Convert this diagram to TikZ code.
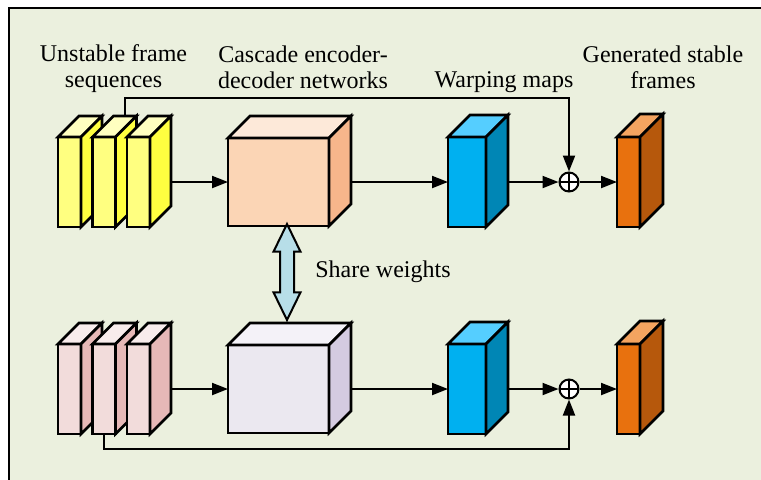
\documentclass[tikz,border=0pt]{standalone}
\usepackage{fontspec}
\setmainfont{Liberation Serif}
\usetikzlibrary{arrows.meta,shapes.arrows}

\definecolor{bggreen}{RGB}{235,240,222}
\definecolor{ylwfront}{RGB}{255,255,128}
\definecolor{ylwside}{RGB}{255,255,64}
\definecolor{ylwtop}{RGB}{255,255,192}
\definecolor{pnkfront}{RGB}{242,220,219}
\definecolor{pnkside}{RGB}{230,184,183}
\definecolor{pnktop}{RGB}{248,236,236}
\definecolor{encfront}{RGB}{251,213,181}
\definecolor{encside}{RGB}{247,182,139}
\definecolor{enctop}{RGB}{253,233,217}
\definecolor{decfront}{RGB}{235,232,240}
\definecolor{decside}{RGB}{212,203,225}
\definecolor{dectop}{RGB}{244,242,248}
\definecolor{warpfront}{RGB}{0,176,240}
\definecolor{warpside}{RGB}{0,134,181}
\definecolor{warptop}{RGB}{85,206,255}
\definecolor{outfront}{RGB}{232,113,14}
\definecolor{outside}{RGB}{182,88,12}
\definecolor{outtop}{RGB}{244,164,96}
\definecolor{shareblue}{RGB}{183,222,232}

% top and side faces behind a front node, name depth top side
\newcommand\cuboid[4]{%
  \filldraw[face,fill=#3] (#1.north west) -- ++(#2,#2) -- ([shift={(#2,#2)}]#1.north east) -- (#1.north east) -- cycle;
  \filldraw[face,fill=#4] (#1.north east) -- ([shift={(#2,#2)}]#1.north east) -- ([shift={(#2,#2)}]#1.south east) -- (#1.south east) -- cycle;
  \coordinate (#1t) at ([shift={(#2,#2)}]#1.north);
  \coordinate (#1r) at ([xshift=#2]#1.east);
}

\begin{document}
\begin{tikzpicture}[x=0.5pt,y=-0.5pt,node distance=103.5pt,
    face/.style={draw,line width=1.3pt},
    front/.style={draw,line width=1.3pt,inner sep=0pt,outer sep=0pt,minimum height=45pt},
    frame/.style={front,minimum width=11.5pt},
    netbox/.style={front,minimum width=50.5pt,minimum height=44pt},
    warpbox/.style={front,minimum width=19pt},
    addop/.style={circle,draw,line width=1pt,fill=white,minimum size=9.5pt,inner sep=0pt,
      path picture={\draw[line width=1pt] (path picture bounding box.north) -- (path picture bounding box.south)
        (path picture bounding box.west) -- (path picture bounding box.east);}},
    share/.style={draw,line width=1pt,fill=shareblue,shape=double arrow,rotate=90,minimum height=48pt,
      minimum width=13pt,double arrow head extend=3.25pt,double arrow tip angle=52,
      inner xsep=0pt,inner ysep=3pt},
    arr/.style={-{Triangle[length=8pt,width=6pt]},line width=1pt},
    lab/.style={align=center,font=\fontsize{12pt}{13pt}\selectfont,inner sep=0pt}]
  \useasboundingbox (0,0) rectangle (761,479);
  \clip (0,0) rectangle (761,479);
  \filldraw[fill=bggreen,line width=1pt] (9,8) rectangle (790,500);

  % labels
  \node[lab] (l1) at (113.5,69) {Unstable frame\\sequences};
  \node[lab] (l2) at (303,67) {Cascade encoder-\\decoder networks};
  \node[lab] (l3) at (504,82) {Warping maps};
  \node[lab] (l4) at (663,67) {Generated stable\\frames};

  % upper branch
  \node[frame,fill=ylwfront] (f1) at (69.5,182) {};
  \cuboid{f1}{10.5pt}{ylwtop}{ylwside}
  \node[frame,fill=ylwfront,node distance=17.25pt,right of=f1] (f2) {};
  \cuboid{f2}{10.5pt}{ylwtop}{ylwside}
  \node[frame,fill=ylwfront,node distance=17.25pt,right of=f2] (f3) {};
  \cuboid{f3}{10.5pt}{ylwtop}{ylwside}
  \node[netbox,fill=encfront,node distance=70pt,right of=f3] (enc1) {};
  \cuboid{enc1}{11pt}{enctop}{encside}
  \node[warpbox,fill=warpfront,node distance=94.25pt,right of=enc1] (warp1) {};
  \cuboid{warp1}{11pt}{warptop}{warpside}
  \node[addop,node distance=51pt,right of=warp1] (add1) {};
  \node[frame,fill=outfront,node distance=29.75pt,right of=add1] (out1) {};
  \cuboid{out1}{11.5pt}{outtop}{outside}

  % lower branch
  \node[frame,fill=pnkfront,below of=f1] (g1) {};
  \cuboid{g1}{10.5pt}{pnktop}{pnkside}
  \node[frame,fill=pnkfront,below of=f2] (g2) {};
  \cuboid{g2}{10.5pt}{pnktop}{pnkside}
  \node[frame,fill=pnkfront,below of=f3] (g3) {};
  \cuboid{g3}{10.5pt}{pnktop}{pnkside}
  \node[netbox,fill=decfront,below of=enc1] (enc2) {};
  \cuboid{enc2}{11pt}{dectop}{decside}
  \node[warpbox,fill=warpfront,below of=warp1] (warp2) {};
  \cuboid{warp2}{11pt}{warptop}{warpside}
  \node[addop,below of=add1] (add2) {};
  \node[frame,fill=outfront,below of=out1] (out2) {};
  \cuboid{out2}{11.5pt}{outtop}{outside}

  \node[share] (share) at ([shift={(4.25pt,-45pt)}]enc1.center) {};
  \node[node distance=48pt,right of=share,font=\fontsize{12pt}{13pt}\selectfont] (swl) {Share weights};

  \draw[arr] (f3r) -- (enc1);
  \draw[arr] (enc1r) -- (warp1);
  \draw[arr] (warp1r) -- (add1);
  \draw[arr] (add1) -- (out1);
  \draw[arr] (f2t) -- ++(0,-18) -| (add1);

  \draw[arr] (g3r) -- (enc2);
  \draw[arr] (enc2r) -- (warp2);
  \draw[arr] (warp2r) -- (add2);
  \draw[arr] (add2) -- (out2);
  \draw[arr] (g2.south) -- ++(0,15) -| (add2);
\end{tikzpicture}
\end{document}
